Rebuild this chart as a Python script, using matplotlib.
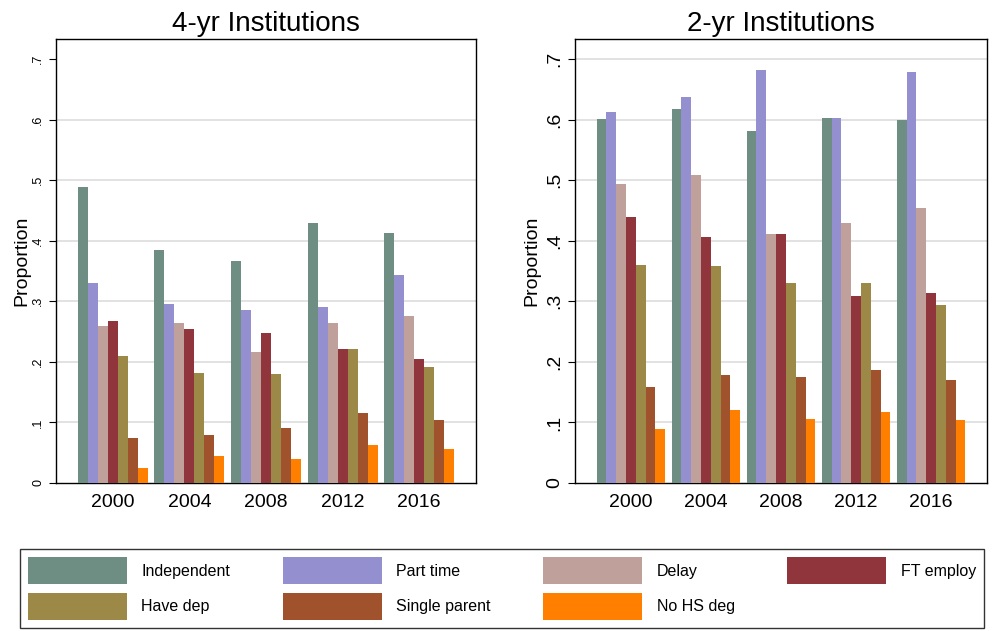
import matplotlib
matplotlib.use("Agg")
import matplotlib.pyplot as plt
import numpy as np

plt.rcParams["font.family"] = ["Liberation Sans", "DejaVu Sans"]

years = ["2000", "2004", "2008", "2012", "2016"]
labels = ["Independent", "Part time", "Delay", "FT employ",
          "Have dep", "Single parent", "No HS deg"]
colors = ["#6e8e84", "#9490d0", "#c0a09a", "#90353b",
          "#9c8847", "#a0522d", "#ff7f00"]

# 4-yr institutions, one list per characteristic (2000..2016)
four_yr = [
    [0.488, 0.385, 0.366, 0.429, 0.412],  # Independent
    [0.330, 0.295, 0.285, 0.291, 0.343],  # Part time
    [0.260, 0.264, 0.216, 0.264, 0.276],  # Delay
    [0.268, 0.254, 0.247, 0.222, 0.205],  # FT employ
    [0.210, 0.181, 0.180, 0.222, 0.192],  # Have dep
    [0.075, 0.080, 0.090, 0.115, 0.104],  # Single parent
    [0.024, 0.044, 0.039, 0.062, 0.056],  # No HS deg
]

# 2-yr institutions
two_yr = [
    [0.601, 0.617, 0.581, 0.603, 0.599],
    [0.612, 0.638, 0.682, 0.603, 0.678],
    [0.494, 0.508, 0.411, 0.429, 0.454],
    [0.439, 0.406, 0.411, 0.308, 0.313],
    [0.360, 0.359, 0.330, 0.331, 0.294],
    [0.159, 0.178, 0.175, 0.187, 0.170],
    [0.089, 0.120, 0.105, 0.117, 0.104],
]

W, H = 992, 631
fig = plt.figure(figsize=(W / 100, H / 100), dpi=100)

ax1 = fig.add_axes([56 / W, 148 / H, 420 / W, 444 / H])
ax2 = fig.add_axes([575 / W, 148 / H, 412 / W, 444 / H])

x = np.arange(len(years))
bw = 0.915 / 7

def draw(ax, data, title, ytick_size, grid_top):
    for i, vals in enumerate(data):
        ax.bar(x - 0.915 / 2 + bw * (i + 0.5), vals, width=bw,
               color=colors[i], label=labels[i], zorder=3, linewidth=0)
    ax.set_xlim(-0.745, 4.745)
    ax.set_ylim(0, 0.733)
    ax.set_xticks(x)
    ax.set_xticklabels(years, fontsize=14)
    ax.tick_params(axis="x", length=0, pad=8)
    yt = np.arange(0, 0.71, 0.1)
    ax.set_yticks(yt)
    ax.set_yticklabels(["0"] + ["." + str(k) for k in range(1, 8)],
                       fontsize=ytick_size, rotation=90, va="center")
    ax.tick_params(axis="y", length=5, width=0.8, direction="out")
    for g in np.arange(0.1, grid_top + 0.01, 0.1):
        ax.axhline(g, color="#dddddd", linewidth=1.2, zorder=1)
    ax.set_ylabel("Proportion", fontsize=14)
    ax.set_title(title, fontsize=20, pad=6)
    for s in ax.spines.values():
        s.set_linewidth(1)

draw(ax1, four_yr, "4-yr Institutions", 9, 0.6)
draw(ax2, two_yr, "2-yr Institutions", 14, 0.7)
ax1.yaxis.labelpad = 1
ax2.yaxis.labelpad = 4

handles, labs = ax1.get_legend_handles_labels()
order = [0, 4, 1, 5, 2, 6, 3]
leg = fig.legend([handles[i] for i in order], [labs[i] for i in order],
                 ncol=4, loc="center", mode="expand",
                 bbox_to_anchor=(20 / W, 1 / H, 964 / W, 83 / H),
                 fontsize=11.5, handlelength=6.2, handleheight=2.22,
                 handletextpad=0.9, labelspacing=0.55, borderaxespad=0,
                 borderpad=0.5, fancybox=False, edgecolor="black")
leg.get_frame().set_linewidth(1)

fig.savefig("out.png", dpi=100)
